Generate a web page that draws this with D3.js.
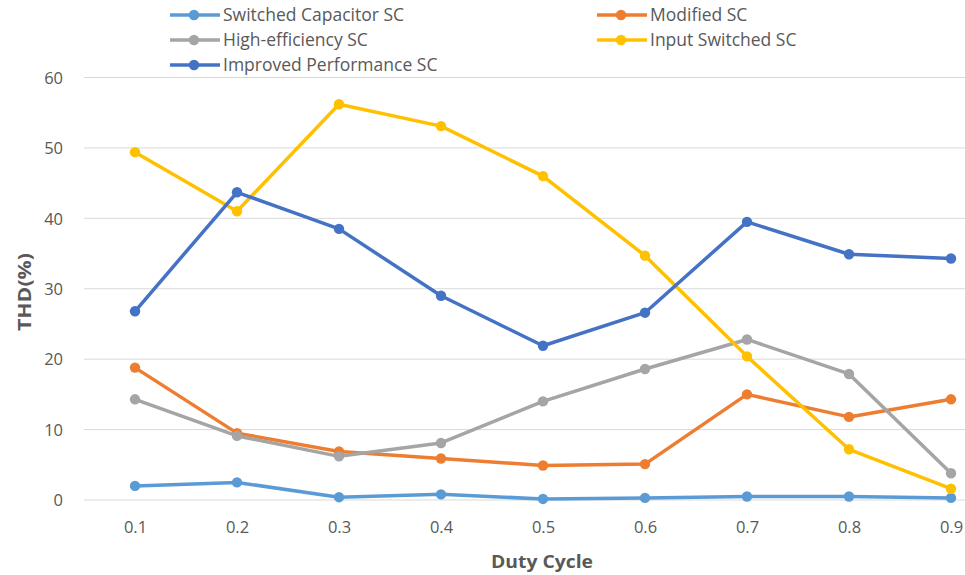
<!DOCTYPE html>
<html>
<head>
<meta charset="utf-8">
<script src="https://cdn.jsdelivr.net/npm/d3@7/dist/d3.min.js"></script>
<style>
  html, body { margin: 0; padding: 0; background: #fff; }
  svg { display: block; }
  text { font-family: "Open Sans", "Noto Sans", sans-serif; }
</style>
</head>
<body>
<svg id="chart" width="965" height="575"></svg>
<script>
const categories = ["0.1", "0.2", "0.3", "0.4", "0.5", "0.6", "0.7", "0.8", "0.9"];
const seriesNames = ["Switched Capacitor SC", "Modified SC", "High-efficiency SC", "Input Switched SC", "Improved Performance SC"];
const switchedCapacitor = [2.0, 2.5, 0.4, 0.8, 0.15, 0.3, 0.5, 0.5, 0.3];
const modifiedSC = [18.8, 9.5, 6.9, 5.9, 4.9, 5.1, 15.0, 11.8, 14.3];
const highEfficiency = [14.3, 9.1, 6.2, 8.1, 14.0, 18.6, 22.8, 17.9, 3.8];
const inputSwitched = [49.4, 41.0, 56.2, 53.1, 46.0, 34.7, 20.4, 7.2, 1.6];
const improvedPerformance = [26.8, 43.7, 38.5, 29.0, 21.9, 26.6, 39.5, 34.9, 34.3];
const yTicks = [0, 10, 20, 30, 40, 50, 60];
const colors = ["#5B9BD5", "#ED7D31", "#A5A5A5", "#FFC000", "#4472C4"];

const seriesValues = [switchedCapacitor, modifiedSC, highEfficiency, inputSwitched, improvedPerformance];
const series = seriesNames.map((name, i) => ({ name, color: colors[i], values: seriesValues[i] }));

const svg = d3.select("#chart");
const W = 965;

const x = d3.scalePoint().domain(categories).range([84, 1002]).padding(0.5);
const y = d3.scaleLinear().domain([0, 60]).range([500, 77.5]);

// gridlines
svg.append("g").selectAll("line").data(yTicks).join("line")
  .attr("x1", 84).attr("x2", W)
  .attr("y1", d => y(d)).attr("y2", d => y(d))
  .attr("stroke", "#d9d9d9").attr("stroke-width", 1);

// y axis labels
const yAxis = d3.axisLeft(y).tickValues(yTicks).tickSize(0).tickPadding(0).tickFormat(d3.format("d"));
const gy = svg.append("g").attr("transform", "translate(63,0)").call(yAxis);
gy.select(".domain").remove();
gy.selectAll("text").attr("font-size", 16.5).attr("fill", "#595959")
  .attr("font-family", "'Open Sans', sans-serif").attr("dy", "0.35em");

// x axis labels
const xAxis = d3.axisBottom(x).tickSize(0).tickPadding(0);
const gx = svg.append("g").attr("transform", "translate(0,527)").call(xAxis);
gx.select(".domain").remove();
gx.selectAll("text").attr("font-size", 16.5).attr("fill", "#595959")
  .attr("font-family", "'Open Sans', sans-serif").attr("dy", "0.35em");

// axis titles
svg.append("text").attr("x", 542).attr("y", 562).attr("dy", "0.35em")
  .attr("text-anchor", "middle").attr("font-size", 18).attr("font-weight", "bold")
  .attr("textLength", 102).attr("lengthAdjust", "spacingAndGlyphs")
  .attr("fill", "#595959").text("Duty Cycle");
svg.append("text").attr("transform", "translate(25,292) rotate(-90)").attr("dy", "0.35em")
  .attr("text-anchor", "middle").attr("font-size", 18).attr("font-weight", "bold")
  .attr("textLength", 78).attr("lengthAdjust", "spacingAndGlyphs")
  .attr("fill", "#595959").text("THD(%)");

// lines
const line = d3.line().x((d, i) => x(categories[i])).y(d => y(d));
const gs = svg.append("g").selectAll("g").data(series).join("g");
gs.append("path")
  .attr("d", d => line(d.values))
  .attr("fill", "none").attr("stroke", d => d.color)
  .attr("stroke-width", 3.5).attr("stroke-linejoin", "round").attr("stroke-linecap", "round");
gs.selectAll("circle").data(d => d.values.map((v, i) => ({ v, i, color: d.color }))).join("circle")
  .attr("cx", d => x(categories[d.i])).attr("cy", d => y(d.v))
  .attr("r", 5.2).attr("fill", d => d.color);

// legend
const legendPos = [
  { lx: 170, ly: 15 }, { lx: 597, ly: 15 },
  { lx: 170, ly: 40 }, { lx: 597, ly: 40 },
  { lx: 170, ly: 65 }
];
const lg = svg.append("g").selectAll("g").data(series).join("g")
  .attr("transform", (d, i) => `translate(${legendPos[i].lx},${legendPos[i].ly})`);
lg.append("line").attr("x1", 0).attr("x2", 50).attr("y1", 0).attr("y2", 0)
  .attr("stroke", d => d.color).attr("stroke-width", 3.5);
lg.append("circle").attr("cx", 24).attr("cy", 0).attr("r", 5.2).attr("fill", d => d.color);
lg.append("text").attr("x", 53).attr("y", 0).attr("dy", "0.35em")
  .attr("font-size", 17.5).attr("fill", "#595959").text(d => d.name);
</script>
</body>
</html>
